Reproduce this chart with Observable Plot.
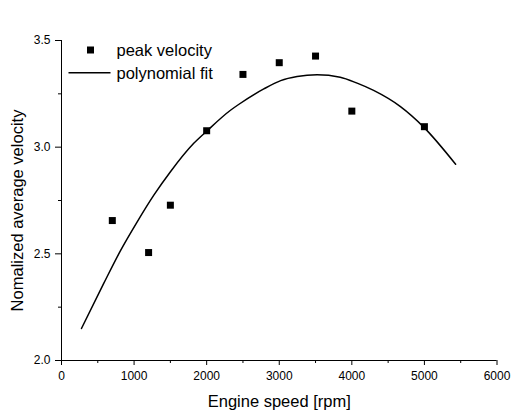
<!DOCTYPE html>
<html>
<head>
<meta charset="utf-8">
<script src="https://cdn.jsdelivr.net/npm/d3@7"></script>
<script src="https://cdn.jsdelivr.net/npm/@observablehq/plot@0.6"></script>
<style>
  html, body { margin: 0; padding: 0; background: #fff; }
</style>
</head>
<body>
<div id="chart"></div>
<script>
// Measured data (peak velocity)
const speeds = [700, 1200, 1500, 2000, 2500, 3000, 3500, 4000, 5000];
const peakVelocity = [2.656, 2.506, 2.728, 3.077, 3.341, 3.396, 3.427, 3.169, 3.096];

// Polynomial fit curve
const fitSpeeds = [275, 580, 813, 1043, 1272, 1501, 1822, 2000, 2328, 2440, 2787, 3020, 3246, 3522, 3840, 4073, 4300, 4670, 4990, 5430];
const fitValues = [2.15, 2.36, 2.515, 2.65, 2.775, 2.885, 3.018, 3.075, 3.173, 3.20, 3.273, 3.312, 3.331, 3.339, 3.328, 3.30, 3.266, 3.19, 3.094, 2.92];

// Axis ticks
const xTicks = [0, 1000, 2000, 3000, 4000, 5000, 6000];
const xMinor = [500, 1500, 2500, 3500, 4500, 5500];
const yTicks = [2.0, 2.5, 3.0, 3.5];
const yMinor = [2.25, 2.75, 3.25];

const xLabel = "Engine speed [rpm]";
const yLabel = "Nomalized average velocity";
const legendLabels = ["peak velocity", "polynomial fit"];

const points = speeds.map((s, i) => ({speed: s, v: peakVelocity[i]}));
const fit = fitSpeeds.map((s, i) => ({speed: s, v: fitValues[i]}));

const lineSymbol = {
  draw(context, size) {
    context.moveTo(-21, 0);
    context.lineTo(21, 0);
  }
};

const font = "Arial, 'Liberation Sans', sans-serif";

const chart = Plot.plot({
  width: 512,
  height: 414,
  marginLeft: 61,
  marginRight: 15.5,
  marginTop: 40,
  marginBottom: 54,
  style: {fontFamily: font, fontSize: "12px", color: "#000", background: "#fff"},
  x: {domain: [0, 6000], label: null},
  y: {domain: [2, 3.5], label: null},
  marks: [
    Plot.axisX(xTicks, {tickSize: 5, tickPadding: 6, fontSize: 12, label: null, tickFormat: d => String(d)}),
    Plot.axisX(xMinor, {tickSize: 3, tickFormat: () => "", label: null}),
    Plot.axisY(yTicks, {tickSize: 6, tickPadding: 5, fontSize: 12, label: null, tickFormat: d3.format(".1f")}),
    Plot.axisY(yMinor, {tickSize: 3, tickFormat: () => "", label: null}),
    Plot.ruleX([0], {stroke: "#000", strokeWidth: 1}),
    Plot.ruleY([2], {stroke: "#000", strokeWidth: 1}),
    Plot.line(fit, {x: "speed", y: "v", stroke: "#000", strokeWidth: 1.5, curve: "monotone-x"}),
    Plot.dot(points, {x: "speed", y: "v", symbol: "square", r: 3.95, fill: "#000", stroke: "none"}),
    // legend
    Plot.dot([legendLabels[0]], {frameAnchor: "top-left", dx: 29, dy: 9.5, symbol: "square", r: 3.95, fill: "#000", stroke: "none"}),
    Plot.text([legendLabels[0]], {frameAnchor: "top-left", dx: 55, dy: 10, text: d => d, textAnchor: "start", lineAnchor: "middle", fontSize: 16.5, fill: "#000"}),
    Plot.dot([legendLabels[1]], {frameAnchor: "top-left", dx: 28, dy: 32.3, symbol: lineSymbol, stroke: "#000", strokeWidth: 1.5, fill: "none"}),
    Plot.text([legendLabels[1]], {frameAnchor: "top-left", dx: 55, dy: 33, text: d => d, textAnchor: "start", lineAnchor: "middle", fontSize: 16.5, fill: "#000"}),
    // axis titles
    Plot.text([xLabel], {frameAnchor: "bottom", dy: 41, text: d => d, textAnchor: "middle", lineAnchor: "middle", fontSize: 16.5, fill: "#000"}),
    Plot.text([yLabel], {frameAnchor: "left", dx: -44, dy: 10, rotate: -90, text: d => d, textAnchor: "middle", lineAnchor: "middle", fontSize: 16.5, fill: "#000"})
  ]
});

document.getElementById("chart").appendChild(chart);
</script>
</body>
</html>
